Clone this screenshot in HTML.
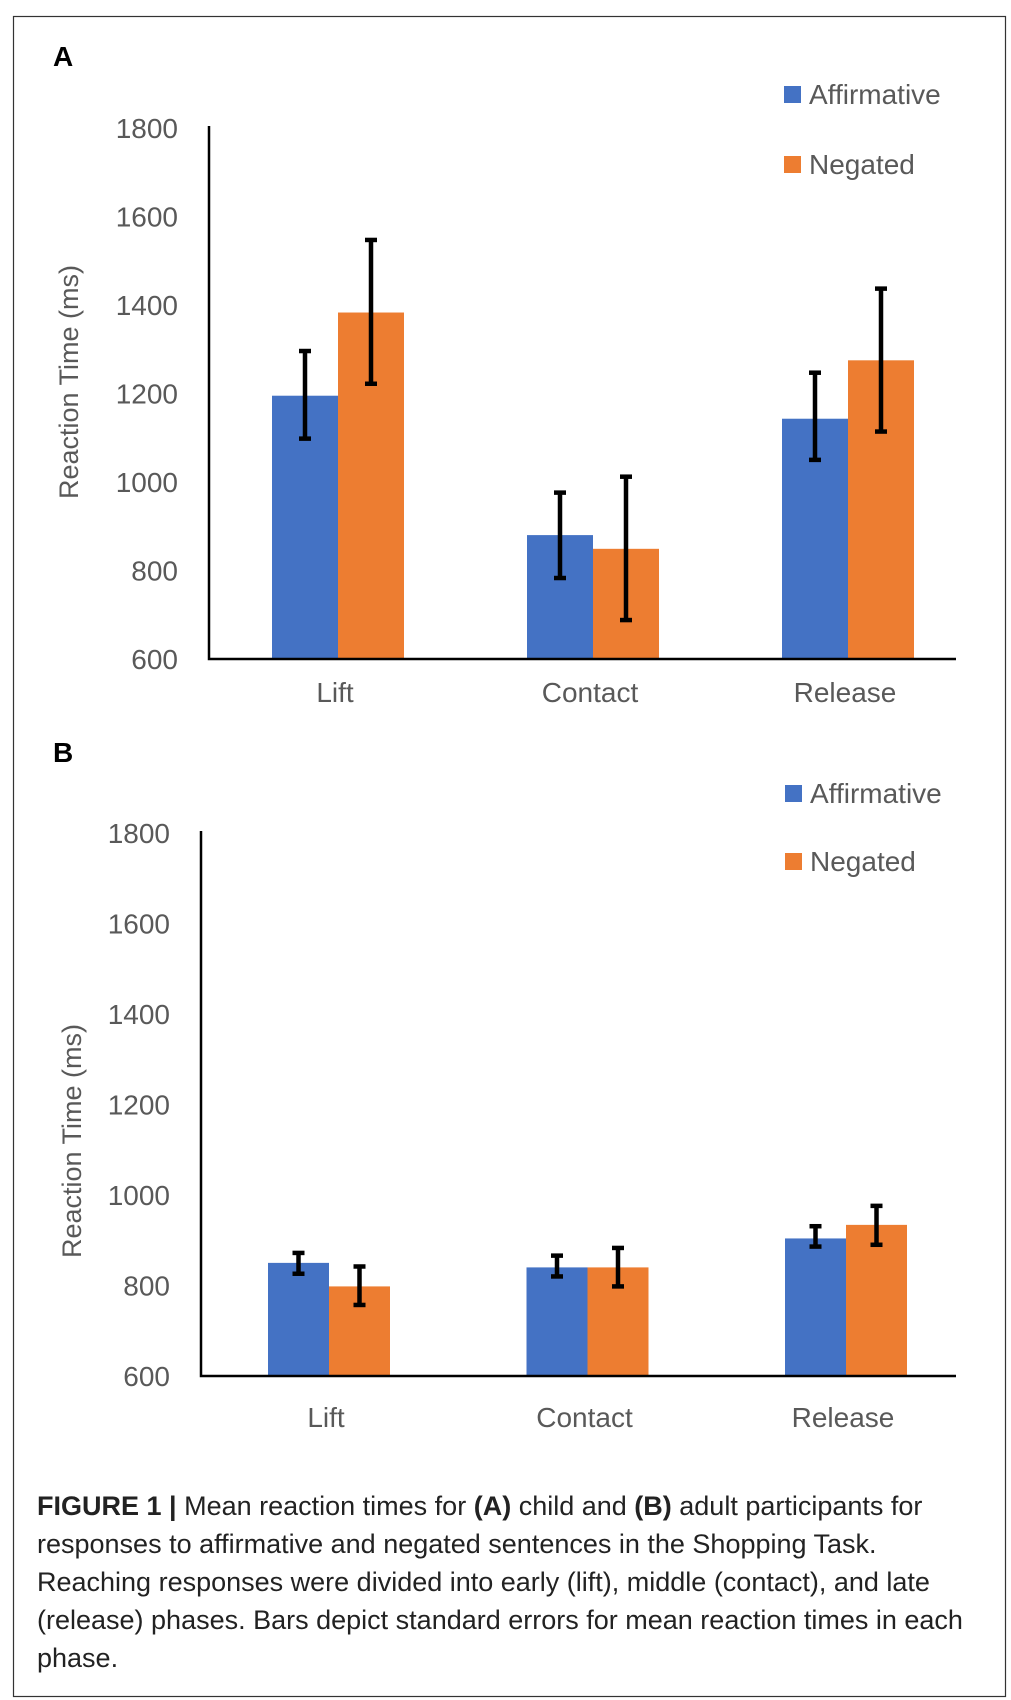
<!DOCTYPE html>
<html><head><meta charset="utf-8">
<style>
html,body{margin:0;padding:0;background:#fff;}
svg{display:block;}
text{font-family:"Liberation Sans",sans-serif;}
</style></head>
<body>
<svg id="fig" width="1011" height="1700" viewBox="0 0 1011 1700" xmlns="http://www.w3.org/2000/svg">
<rect x="13.5" y="16.5" width="992" height="1680" fill="#fff" stroke="#333" stroke-width="1.2"/>
<g id="chartA"></g>
<g id="chartB"></g>
<g font-size="27" fill="#222">
<text x="37" y="1515"><tspan font-weight="bold">FIGURE 1 | </tspan>Mean reaction times for <tspan font-weight="bold">(A)</tspan> child and <tspan font-weight="bold">(B)</tspan> adult participants for</text>
<text x="37" y="1553">responses to affirmative and negated sentences in the Shopping Task.</text>
<text x="37" y="1591">Reaching responses were divided into early (lift), middle (contact), and late</text>
<text x="37" y="1629">(release) phases. Bars depict standard errors for mean reaction times in each</text>
<text x="37" y="1667">phase.</text>
</g>
</svg>
<script>
const categories = ["Lift", "Contact", "Release"];
const seriesNames = ["Affirmative", "Negated"];
const tickLabels = [600, 800, 1000, 1200, 1400, 1600, 1800];
const childAffirm = [1195, 880, 1143];
const childNegated = [1383, 849, 1275];
const childAffirmHi = [1296, 976, 1247];
const childAffirmLo = [1098, 783, 1050];
const childNegatedHi = [1547, 1012, 1437];
const childNegatedLo = [1222, 688, 1114];
const adultAffirm = [850, 840, 904];
const adultNegated = [798, 840, 934];
const adultAffirmHi = [872, 866, 931];
const adultAffirmLo = [826, 820, 886];
const adultNegatedHi = [842, 883, 976];
const adultNegatedLo = [757, 798, 890];

const NS = "http://www.w3.org/2000/svg";
const colors = ["#4472C4", "#ED7D31"];
function mk(parent, tag, attrs, txt) {
  const e = document.createElementNS(NS, tag);
  for (const k in attrs) e.setAttribute(k, attrs[k]);
  if (txt !== undefined) e.textContent = txt;
  parent.appendChild(e);
  return e;
}
function drawChart(g, cfg, vals, his, los, letter) {
  const yScale = v => cfg.yBase - (v - 600) / 1200 * (cfg.yBase - cfg.yTop);
  const xCenter = i => cfg.c0 + i * cfg.step;
  let t = mk(g, "text", {x: 53, y: cfg.letterY, "font-size": 28, "font-weight": "bold", fill: "#000"}, letter);
  
  
  tickLabels.forEach(v => {
    const tl = mk(g, "text", {x: cfg.tickX, y: yScale(v) + 10, "font-size": 28, fill: "#595959", "text-anchor": "end"}, String(v));
    
    
  });
  const yt = mk(g, "text", {x: 0, y: 0, "font-size": 27, fill: "#595959", "text-anchor": "middle", transform: `translate(${cfg.titleX},${cfg.titleY}) rotate(-90)`}, "Reaction Time (ms)");
  
  
  categories.forEach((c, i) => {
    vals.forEach((series, s) => {
      const x = xCenter(i) + (s === 0 ? -cfg.bw : 0);
      const r = mk(g, "rect", {x: x, y: yScale(series[i]), width: cfg.bw, height: cfg.yBase - yScale(series[i]), fill: colors[s]});
      
      
    });
    vals.forEach((series, s) => {
      const cx = xCenter(i) + (s === 0 ? -cfg.bw / 2 : cfg.bw / 2);
      const eg = mk(g, "g", {stroke: "#000", "stroke-width": 4.5});
      
      
      mk(eg, "line", {x1: cx, x2: cx, y1: yScale(his[s][i]), y2: yScale(los[s][i])});
      mk(eg, "line", {x1: cx - 6, x2: cx + 6, y1: yScale(his[s][i]), y2: yScale(his[s][i])});
      mk(eg, "line", {x1: cx - 6, x2: cx + 6, y1: yScale(los[s][i]), y2: yScale(los[s][i])});
    });
    const cl = mk(g, "text", {x: xCenter(i) - 3, y: cfg.catY, "font-size": 28, fill: "#595959", "text-anchor": "middle"}, c);
    
    
  });
  const ax = mk(g, "path", {d: `M${cfg.axX} ${cfg.yTop - 2} V${cfg.yBase} H956`, fill: "none", stroke: "#000", "stroke-width": 2.5});
  
  
  seriesNames.forEach((n, s) => {
    const ly = cfg.legY[s];
    const lg = mk(g, "g", {});
    
    
    mk(lg, "rect", {x: cfg.legX, y: ly - 8, width: 17, height: 17, fill: colors[s]});
    mk(lg, "text", {x: cfg.legX + 25, y: ly + 10, "font-size": 28, fill: "#595959"}, n);
  });
}
drawChart(document.getElementById("chartA"),
  {yBase: 659, yTop: 128, c0: 338, step: 255, bw: 66, tickX: 178, axX: 209, titleX: 78, titleY: 382, catY: 702, letterY: 66, legX: 784, legY: [94, 164]},
  [childAffirm, childNegated], [childAffirmHi, childNegatedHi], [childAffirmLo, childNegatedLo], "A");
drawChart(document.getElementById("chartB"),
  {yBase: 1376, yTop: 833, c0: 329, step: 258.5, bw: 61, tickX: 170, axX: 201, titleX: 81, titleY: 1141, catY: 1427, letterY: 762, legX: 785, legY: [793, 861]},
  [adultAffirm, adultNegated], [adultAffirmHi, adultNegatedHi], [adultAffirmLo, adultNegatedLo], "B");
</script>
</body></html>
